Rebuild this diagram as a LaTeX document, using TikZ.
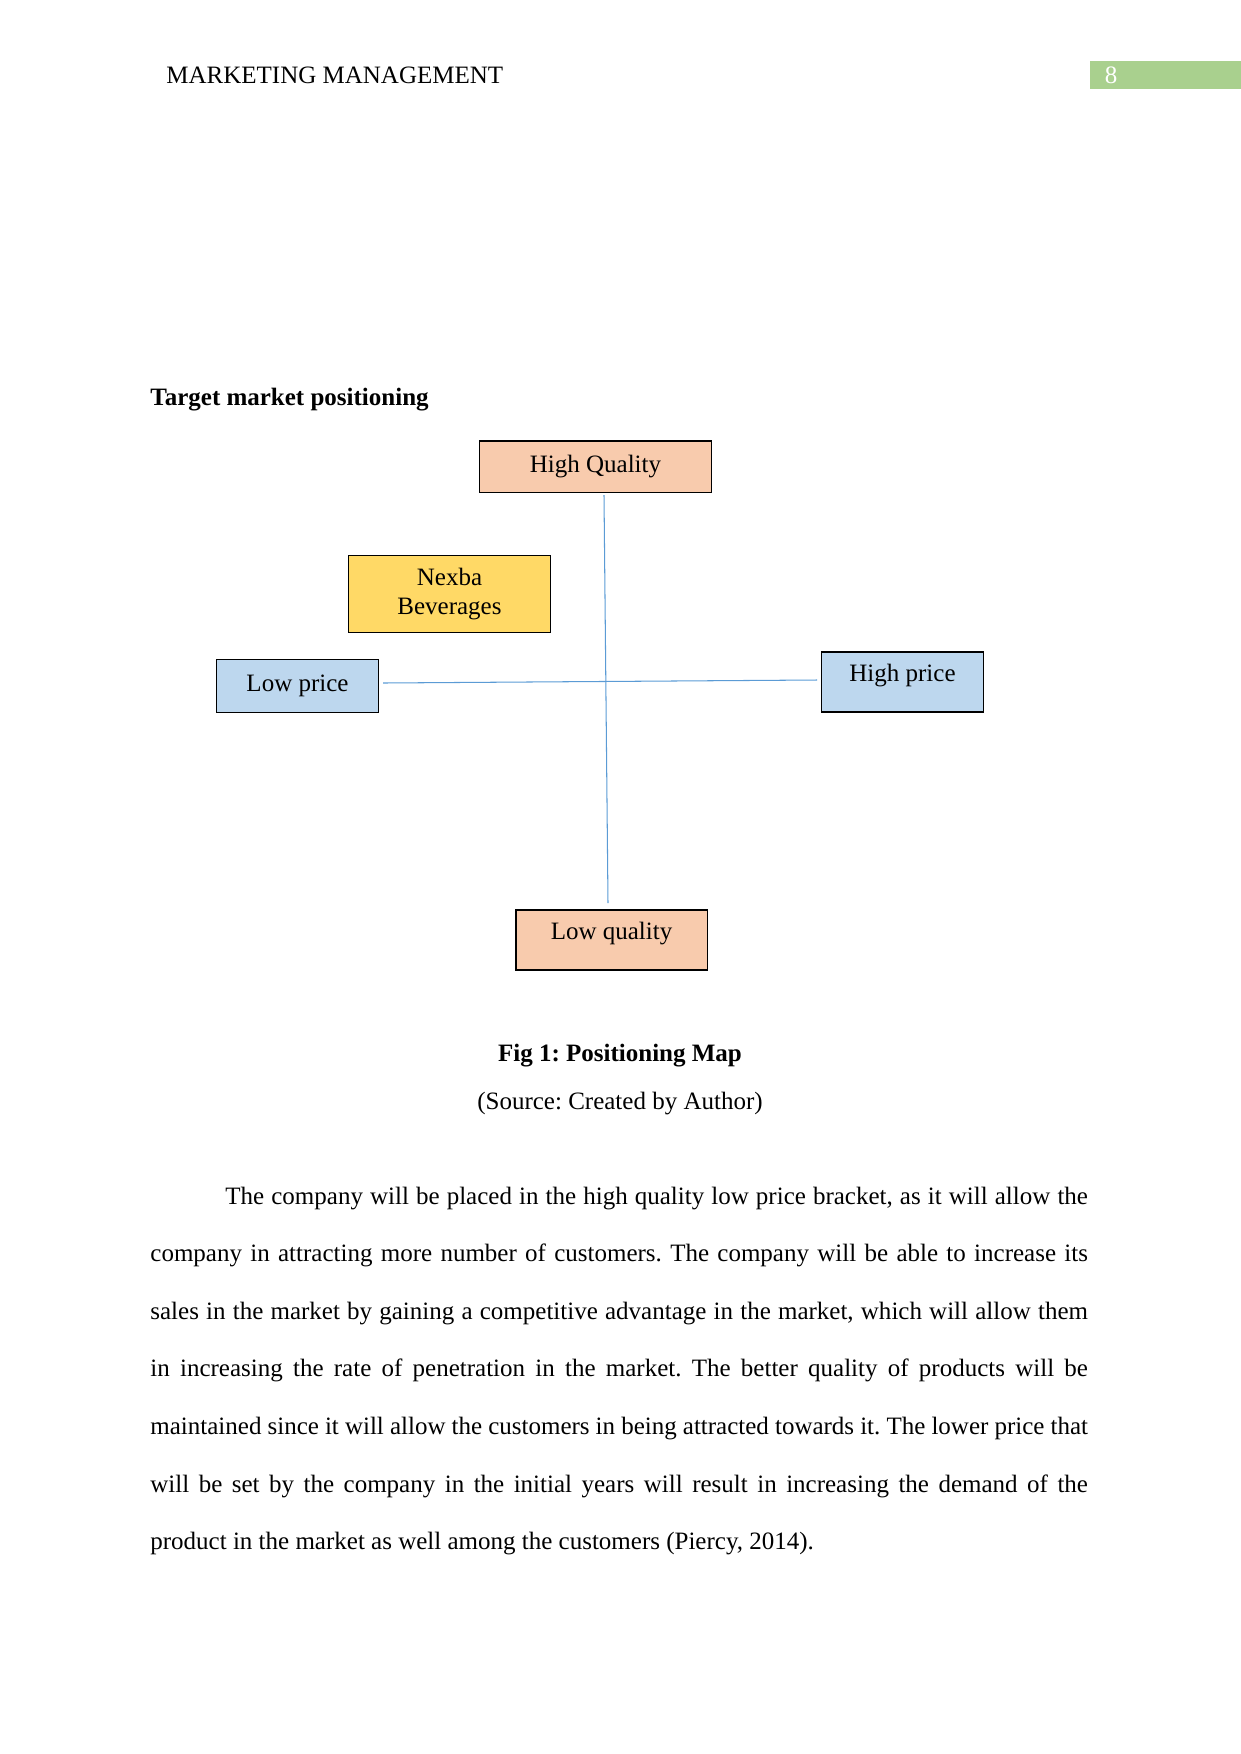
\documentclass[tikz,border=0pt]{standalone}
\usepackage{fontspec}
\setmainfont{Liberation Serif}
\usetikzlibrary{positioning}
\frenchspacing
\definecolor{peach}{RGB}{248,203,173}
\definecolor{paleblue}{RGB}{189,215,238}
\definecolor{gold}{RGB}{255,217,102}
\definecolor{axisblue}{RGB}{91,155,213}
\definecolor{headgreen}{RGB}{169,208,142}

\begin{document}
\begin{tikzpicture}[
      x=0.48pt, y=-0.48pt,
      font=\fontsize{12}{14}\selectfont,
      mapbox/.style={rectangle, draw=black, line width=0.5pt, align=center, inner sep=2pt},
      axis/.style={draw=axisblue, line width=0.5pt}
  ]
  \useasboundingbox (0,0) rectangle (1241,1754);

  % Header
  \node[anchor=base west, inner sep=0pt] (head) at (166,83) {MARKETING MANAGEMENT};
  \node[fill=headgreen, anchor=north west, inner sep=0pt, minimum width=72.5pt, minimum height=13.4pt] (pagebox) at (1090,61) {};
  \node[anchor=base, inner sep=0pt, text=white] (pagenum) at (1111,83) {8};

  \node[anchor=base west, inner sep=0pt, font=\fontsize{12}{14}\selectfont\bfseries] (title) at (150,405) {Target market positioning};

  % Map boxes
  \node[mapbox, fill=peach, minimum width=111.8pt, minimum height=24.5pt] (hq) at (595.5,466.5) {High Quality};
  \node[mapbox, fill=gold, minimum width=97.4pt, minimum height=37.4pt] (nexba) at (449.5,594) {Nexba\\Beverages};
  \node[mapbox, fill=paleblue, minimum width=78.2pt, minimum height=25pt] (lp) at (297.5,686) {Low price};
  \node[mapbox, fill=paleblue, minimum width=78.2pt, minimum height=28.8pt, text depth=9pt] (hp) at (902.5,682) {High price};
  \node[mapbox, fill=peach, minimum width=91.7pt, minimum height=28.8pt, text depth=9pt] (lq) at (611.5,940) {Low quality};

  % Axes
  \coordinate (qtop) at (604,495);
  \coordinate (qbot) at (608,903);
  \coordinate (pleft) at (383,683);
  \coordinate (pright) at (817,680);
  \draw[axis] (qtop) -- (qbot);
  \draw[axis] (pleft) -- (pright);

  % Caption
  \node[anchor=base, inner sep=0pt, font=\fontsize{12}{14}\selectfont\bfseries] (cap) at (620,1061) {Fig 1: Positioning Map};
  \node[anchor=base, inner sep=0pt] (src) at (620,1109) {(Source: Created by Author)};

  % Body text
  \node[anchor=base west, inner sep=0pt, text width=450pt, align=justify, font=\fontsize{12}{27.65}\selectfont] (body) at (150,1204) {\tolerance=9999\hspace*{36pt}The company will be placed in the high quality low price bracket, as it will allow the\linebreak
  company in attracting more number of customers. The company will be able to increase its\linebreak
  sales in the market by gaining a competitive advantage in the market, which will allow them\linebreak
  in increasing the rate of penetration in the market. The better quality of products will be\linebreak
  maintained since it will allow the customers in being attracted towards it. The lower price that\linebreak
  will be set by the company in the initial years will result in increasing the demand of the\linebreak
  product in the market as well among the customers (Piercy, 2014).};

\end{tikzpicture}
\end{document}
